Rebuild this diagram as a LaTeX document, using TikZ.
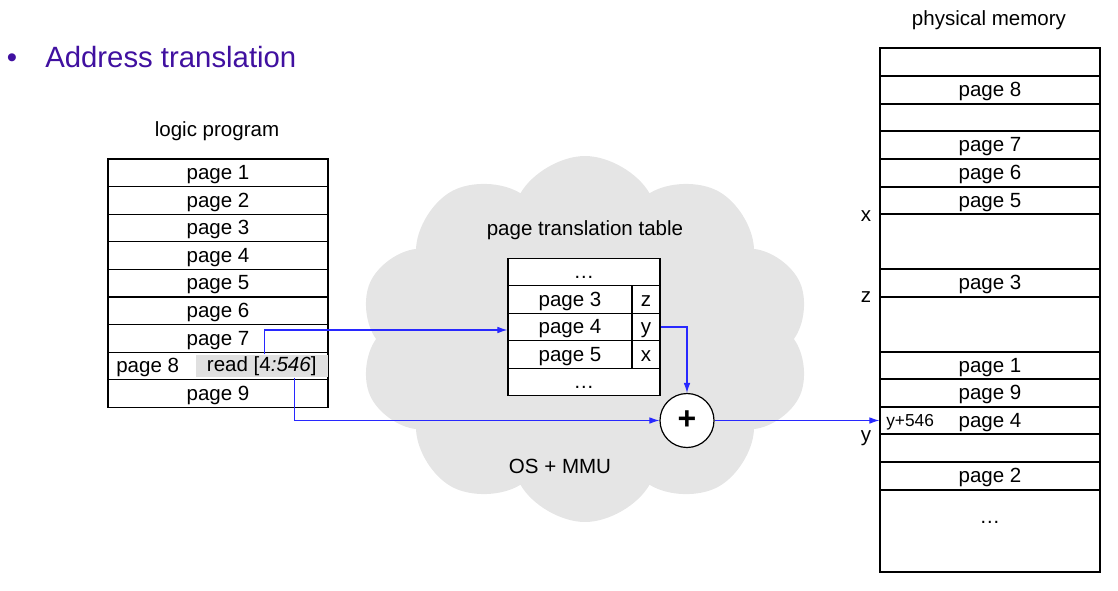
\documentclass[tikz,border=0pt]{standalone}
\usepackage{fontspec}
\setmainfont{Liberation Sans}
\usetikzlibrary{shapes.symbols,arrows.meta}
\newlength\pxu
\setlength\pxu{0.75pt}
\definecolor{titlecol}{RGB}{64,16,160}
\definecolor{cloudgray}{RGB}{229,229,229}
\definecolor{flowblue}{RGB}{40,40,255}

\begin{document}
\begin{tikzpicture}[x=0.75pt,y=-0.75pt,
        cell/.style={draw, line width=0.9pt, fill=white, inner sep=0pt,
            minimum height=27.6\pxu, text height=12.4pt, text depth=2.4pt,
            font=\fontsize{15.4}{18}\selectfont},
        lbl/.style={inner sep=0pt, font=\fontsize{15.4}{18}\selectfont},
        flow/.style={draw=flowblue, line width=0.8pt, -{Latex[length=7.5pt,width=5pt]}}]

        \useasboundingbox (0,0) rectangle (1118,590);

        % title
        \node[inner sep=0pt, anchor=base, text=titlecol, font=\fontsize{22}{26}\selectfont] (bullet) at (12,67.3) {\textbullet};
        \node[inner sep=0pt, anchor=base west, text=titlecol, font=\fontsize{22}{26}\selectfont] (title) at (45,67.3) {Address translation};

        % the OS cloud
        \node[cloud, cloud puffs=10, cloud puff arc=120, cloud ignores aspect, fill=cloudgray, minimum width=452\pxu, minimum height=366\pxu] (os) at (585,339) {};
        \node[lbl] (ostxt) at (560,466) {OS + MMU};

        % logic program
        \node[lbl] (lptitle) at (217,131) {logic program};
        \foreach \i in {1,2,3,4,5,6,7,9} {
            \node[cell, minimum width=220\pxu] (lp\i) at (218, {145.2+27.6*\i}) {page \i};
        }
        \node[cell, minimum width=220\pxu] (lp8) at (218, {145.2+27.6*8}) {};
        \node[lbl, anchor=west] (lp8txt) at (116,367) {page 8};
        \node[lbl, fill=black!12, minimum width=132\pxu, minimum height=22.5\pxu, anchor=east] (rd) at ([xshift=-0.45pt]lp8.east) {read [4\textit{:546}]};

        % page translation table
        \node[lbl] (pttitle) at (585,230) {page translation table};
        \node[cell, minimum width=152\pxu] (ptop) at (584,272) {…};
        \foreach \i / \p / \f in {1/3/z,2/4/y,3/5/x} {
            \node[cell, minimum width=124\pxu] (pt\p) at (570, {272+27.5*\i}) {page \p};
            \node[cell, minimum width=28\pxu] (fr\f) at (646, {272+27.5*\i}) {\f};
        }
        \node[cell, minimum width=152\pxu] (pbot) at (584,382) {…};

        \node[circle, draw, line width=0.9pt, fill=white, minimum size=54\pxu, inner sep=0pt, font=\fontsize{24}{24}\selectfont\bfseries] (plus) at (687,420.5) {+};

        % physical memory
        \node[lbl] (pmtitle) at (989,20) {physical memory};
        \foreach \t / \b / \n / \s in {48/76/mf1/{}, 76/104/mp8/{page 8}, 104/131/mf2/{},
                131/159/mp7/{page 7}, 159/187/mp6/{page 6}, 187/214/mp5/{page 5},
                214/269/mf3/{}, 269/297/mp3/{page 3}, 297/352/mf4/{},
                352/379/mp1/{page 1}, 379/407/mp9/{page 9}, 407/434/mp4/{page 4},
                434/462/mf5/{}, 462/490/mp2/{page 2}, 490/572/mrest/{}} {
            \node[cell, minimum width=220\pxu, minimum height={(\b-\t)*0.75pt}] (\n) at (990, {(\t+\b)/2}) {\s};
        }
        \node[lbl] (mdots) at (990,522) {…};
        \node[inner sep=0pt, anchor=west, font=\fontsize{13}{15}\selectfont] (yoff) at (886,422) {y+546};

        \node[lbl, anchor=base] (fx) at (866,221) {x};
        \node[lbl, anchor=base] (fz) at (866,302) {z};
        \node[lbl, anchor=base] (fy) at (866,441) {y};

        % address flow
        \draw[flow] ([xshift=2.25pt]rd.north) |- ([yshift=-2.25pt]pt4.west);
        \draw[flow] (fry.east) -| (plus.north);
        \draw[flow] ([xshift=24.75pt]rd.south) |- (plus.west);
        \draw[flow] (plus.east) -- (mp4.west);

    \end{tikzpicture}
\end{document}
